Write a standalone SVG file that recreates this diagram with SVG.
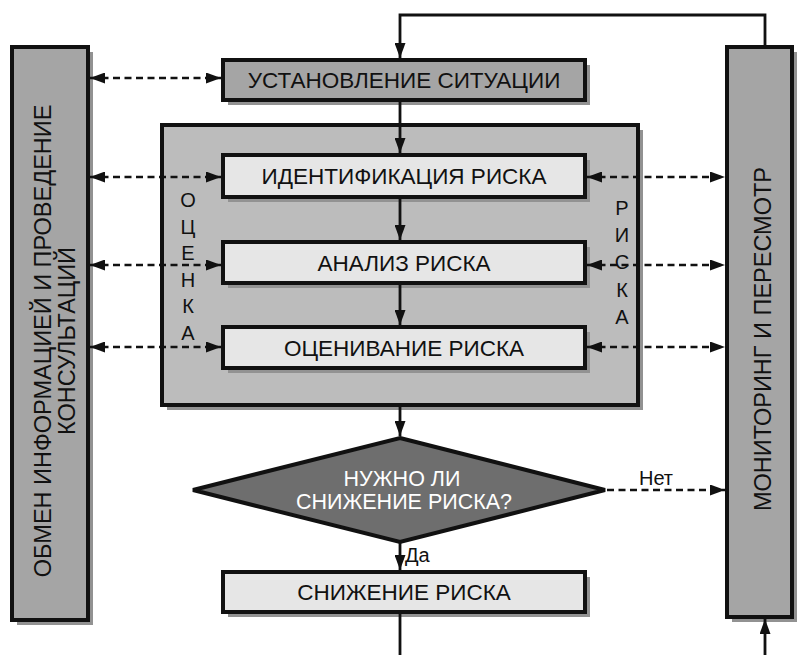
<svg xmlns="http://www.w3.org/2000/svg" width="800" height="655" viewBox="0 0 800 655">
<defs>
<style>
.t{font-family:"Liberation Sans",Arial,sans-serif;font-size:22.5px;fill:#111;text-anchor:middle}
.tv{font-family:"Liberation Sans",Arial,sans-serif;font-size:23.5px;fill:#111;text-anchor:middle}
.tw{font-family:"Liberation Sans",Arial,sans-serif;font-size:21.5px;fill:#fff;text-anchor:middle}
.l{font-family:"Liberation Sans",Arial,sans-serif;font-size:20px;fill:#111;text-anchor:middle}
.sh{fill:#929292}
.box{stroke:#111;stroke-width:4}
.mid{fill:#a5a5a5}
.light{fill:#e6e6e6}
.cont{fill:#bcbcbc}
.solid{stroke:#111;stroke-width:2.8;fill:none}
.dash{stroke:#111;stroke-width:2.4;fill:none;stroke-dasharray:7 4.5}
</style>
<marker id="ah" viewBox="0 0 15 11" refX="15" refY="5.5" markerWidth="15" markerHeight="11" markerUnits="userSpaceOnUse" orient="auto-start-reverse">
<path d="M0,0 L15,5.5 L0,11 Z" fill="#111"/>
</marker>
</defs>
<rect width="800" height="655" fill="#fff"/>

<g id="left-box">
<rect class="sh" x="17" y="52" width="76" height="573"/>
<rect class="box mid" x="12" y="47" width="76" height="573"/>
<text class="tv" transform="translate(43,341) rotate(-90)" y="8">ОБМЕН ИНФОРМАЦИЕЙ И ПРОВЕДЕНИЕ</text>
<text class="tv" transform="translate(67,341) rotate(-90)" y="8">КОНСУЛЬТАЦИЙ</text>
</g>

<g id="right-box">
<rect class="sh" x="732" y="52" width="65" height="570"/>
<rect class="box mid" x="727" y="47" width="65" height="570"/>
<text class="tv" transform="translate(763,339) rotate(-90)" y="8">МОНИТОРИНГ И ПЕРЕСМОТР</text>
</g>

<g id="situation">
<rect class="sh" x="228" y="65" width="362" height="40"/>
<rect class="box mid" x="223" y="60" width="362" height="40"/>
<text class="t" x="404" y="88">УСТАНОВЛЕНИЕ СИТУАЦИИ</text>
</g>

<g id="assessment">
<rect class="sh" x="167" y="130" width="476" height="280"/>
<rect class="box cont" x="162" y="125" width="476" height="280"/>
<g class="l">
<text x="188" y="207">О</text>
<text x="188" y="234">Ц</text>
<text x="188" y="260">Е</text>
<text x="188" y="287">Н</text>
<text x="188" y="313">К</text>
<text x="188" y="340">А</text>
<text x="622" y="215">Р</text>
<text x="622" y="242">И</text>
<text x="622" y="269">С</text>
<text x="622" y="297">К</text>
<text x="622" y="324">А</text>
</g>
</g>

<g id="identification">
<rect class="sh" x="228" y="160" width="362" height="42"/>
<rect class="box light" x="223" y="155" width="362" height="42"/>
<text class="t" x="404" y="184">ИДЕНТИФИКАЦИЯ РИСКА</text>
</g>

<g id="analysis">
<rect class="sh" x="228" y="247" width="362" height="41"/>
<rect class="box light" x="223" y="242" width="362" height="41"/>
<text class="t" x="404" y="270.5">АНАЛИЗ РИСКА</text>
</g>

<g id="evaluation">
<rect class="sh" x="228" y="332" width="362" height="41"/>
<rect class="box light" x="223" y="327" width="362" height="41"/>
<text class="t" x="404" y="355.5">ОЦЕНИВАНИЕ РИСКА</text>
</g>

<g id="decision">
<polygon points="400,438 605,490 400,542 193,490" fill="#6e6e6e" stroke="#111" stroke-width="4"/>
<text class="tw" x="402" y="486">НУЖНО ЛИ</text>
<text class="tw" x="404" y="509">СНИЖЕНИЕ РИСКА?</text>
</g>

<g id="treatment">
<rect class="sh" x="228" y="577" width="362" height="40"/>
<rect class="box light" x="223" y="572" width="362" height="40"/>
<text class="t" x="404" y="600">СНИЖЕНИЕ РИСКА</text>
</g>

<g id="connectors">
<path class="solid" d="M765,47 V15 H400 V58" marker-end="url(#ah)"/>
<path class="solid" d="M400,100 V153" marker-end="url(#ah)"/>
<path class="solid" d="M400,197 V240" marker-end="url(#ah)"/>
<path class="solid" d="M400,283 V325" marker-end="url(#ah)"/>
<path class="solid" d="M400,405 V436" marker-end="url(#ah)"/>
<path class="solid" d="M400,542 V570" marker-end="url(#ah)"/>
<path class="solid" d="M400,612 V655"/>
<path class="solid" d="M765,655 V619" marker-end="url(#ah)"/>
<path class="dash" d="M90,78 H221" marker-start="url(#ah)" marker-end="url(#ah)"/>
<path class="dash" d="M90,177 H221" marker-start="url(#ah)" marker-end="url(#ah)"/>
<path class="dash" d="M90,265 H221" marker-start="url(#ah)" marker-end="url(#ah)"/>
<path class="dash" d="M90,347 H221" marker-start="url(#ah)" marker-end="url(#ah)"/>
<path class="dash" d="M587,177 H725" marker-start="url(#ah)" marker-end="url(#ah)"/>
<path class="dash" d="M587,265 H725" marker-start="url(#ah)" marker-end="url(#ah)"/>
<path class="dash" d="M587,347 H725" marker-start="url(#ah)" marker-end="url(#ah)"/>
<path class="dash" d="M607,490 H725" marker-end="url(#ah)"/>
<text class="l" x="656" y="485">Нет</text>
<text class="l" x="405" y="562" style="text-anchor:start">Да</text>
</g>
</svg>
